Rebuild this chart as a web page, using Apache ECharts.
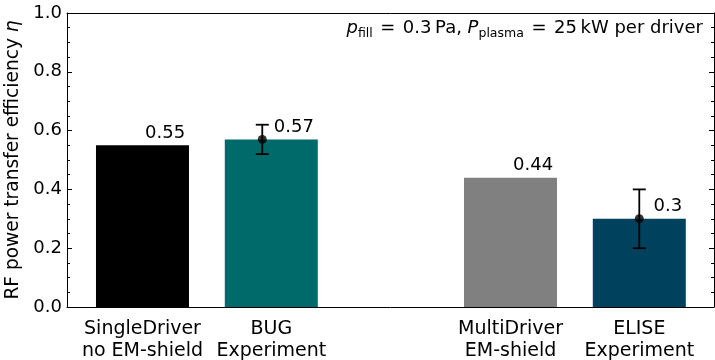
<!DOCTYPE html>
<html>
<head>
<meta charset="utf-8">
<script src="https://cdn.jsdelivr.net/npm/echarts@6/dist/echarts.min.js"></script>
<style>
  html, body { margin: 0; padding: 0; background: #fff; }
  #chart { width: 715px; height: 360px; }
</style>
</head>
<body>
<div id="chart"></div>
<script>
// Bar categories and their positions along the x axis (data units)
const categories = ['SingleDriver\nno EM-shield', 'BUG\nExperiment', 'MultiDriver\nEM-shield', 'ELISE\nExperiment'];
const slots = [0, 1, 2.857, 3.857];
// RF power transfer efficiency per bar
const efficiency = [0.55, 0.57, 0.44, 0.3];
const barColors = ['#000000', '#006a6a', '#808080', '#00425e'];
// Measured points with uncertainty
const errSlots = [0.93, 3.857];
const errValue = [0.57, 0.3];
const errLow = [0.52, 0.2];
const errHigh = [0.62, 0.4];
// y-axis ticks
const yTicks = [0, 0.2, 0.4, 0.6, 0.8, 1.0];

const FONT = 'DejaVu Sans';
const X_MIN = -0.586, X_MAX = 4.437;
const BAR_W = 0.722;
const labelShift = [0.02, 0.02, 0.02, 0.11];

const chart = echarts.init(document.getElementById('chart'), null, { renderer: 'canvas' });

const yAxisBase = {
  type: 'value',
  min: yTicks[0],
  max: yTicks[yTicks.length - 1],
  interval: 0.2,
  z: 5,
  axisLine: { show: true, onZero: false, lineStyle: { color: '#000', width: 1 } },
  axisTick: { show: true, inside: true, length: 5, lineStyle: { color: '#000', width: 1 } },
  minorTick: { show: true, splitNumber: 4, length: 3, lineStyle: { color: '#000', width: 1 } },
  splitLine: { show: false },
  minorSplitLine: { show: false }
};

chart.setOption({
  animation: false,
  backgroundColor: '#fff',
  grid: { left: 67, right: 1, top: 13, bottom: 53, outerBoundsMode: 'none', containLabel: false },
  xAxis: [
    {
      type: 'value',
      min: X_MIN,
      max: X_MAX,
      z: 5,
      axisLine: { show: true, onZero: false, lineStyle: { color: '#000', width: 1 } },
      axisTick: { show: false },
      splitLine: { show: false },
      axisLabel: {
        show: true,
        customValues: slots,
        formatter: (v) => {
          const i = slots.findIndex(s => Math.abs(s - v) < 1e-6);
          return i >= 0 ? categories[i] : '';
        },
        color: '#000',
        fontFamily: FONT,
        fontSize: 19,
        lineHeight: 22,
        margin: 11
      }
    },
    {
      type: 'value',
      position: 'top',
      min: X_MIN,
      max: X_MAX,
      z: 5,
      axisLine: { show: true, onZero: false, lineStyle: { color: '#000', width: 1 } },
      axisTick: { show: false },
      axisLabel: { show: false },
      splitLine: { show: false }
    }
  ],
  yAxis: [
    Object.assign({}, yAxisBase, {
      position: 'left',
      axisLabel: {
        color: '#000',
        fontFamily: FONT,
        fontSize: 18,
        margin: 5,
        formatter: (v) => v.toFixed(1)
      },
      name: 'RF power transfer efficiency {i|η}',
      nameLocation: 'middle',
      nameRotate: 90,
      nameGap: 34,
      nameTextStyle: {
        color: '#000',
        fontFamily: FONT,
        fontSize: 18.6,
        rich: { i: { fontStyle: 'italic', fontFamily: FONT, fontSize: 18.6, color: '#000' } }
      }
    }),
    Object.assign({}, yAxisBase, {
      position: 'right',
      axisLabel: { show: false }
    })
  ],
  series: [
    {
      // bars drawn as rectangles in data space, with value text above
      type: 'custom',
      xAxisIndex: 0,
      yAxisIndex: 0,
      z: 2,
      data: slots.map((s, i) => [s, efficiency[i], i]),
      renderItem: (params, api) => {
        const x = api.value(0), y = api.value(1), i = api.value(2);
        const tl = api.coord([x - BAR_W / 2, y]);
        const br = api.coord([x + BAR_W / 2, 0]);
        const lab = api.coord([x + labelShift[i], y]);
        return {
          type: 'group',
          children: [
            {
              type: 'rect',
              shape: { x: tl[0], y: tl[1], width: br[0] - tl[0], height: br[1] - tl[1] },
              style: { fill: barColors[i] }
            },
            {
              type: 'text',
              x: lab[0],
              y: lab[1] - 12,
              style: {
                text: String(efficiency[i]),
                fill: '#000',
                font: '18px "' + FONT + '"',
                align: 'left',
                verticalAlign: 'middle'
              }
            }
          ]
        };
      }
    },
    {
      type: 'custom',
      xAxisIndex: 0,
      yAxisIndex: 0,
      z: 4,
      data: errSlots.map((s, i) => [s, errLow[i], errHigh[i]]),
      renderItem: (params, api) => {
        const lo = api.coord([api.value(0), api.value(1)]);
        const hi = api.coord([api.value(0), api.value(2)]);
        const cap = 6.5;
        const style = { stroke: '#000', lineWidth: 1.8 };
        return {
          type: 'group',
          children: [
            { type: 'line', shape: { x1: lo[0], y1: lo[1], x2: hi[0], y2: hi[1] }, style },
            { type: 'line', shape: { x1: lo[0] - cap, y1: lo[1], x2: lo[0] + cap, y2: lo[1] }, style },
            { type: 'line', shape: { x1: hi[0] - cap, y1: hi[1], x2: hi[0] + cap, y2: hi[1] }, style }
          ]
        };
      }
    },
    {
      type: 'scatter',
      xAxisIndex: 0,
      yAxisIndex: 0,
      z: 5,
      symbol: 'circle',
      symbolSize: 9,
      itemStyle: { color: '#000' },
      data: errSlots.map((s, i) => [s, errValue[i]])
    }
  ],
  graphic: [
    {
      type: 'text',
      right: 12,
      top: 19,
      z: 10,
      style: {
        text: '{i|p}{sub|fill}{n| \u200a= \u200a0.3\u2009Pa, }{i|P}{sub|plasma}{n| \u200a= \u200a25\u2009kW per driver}',
        fill: '#000',
        rich: {
          n: { fontFamily: FONT, fontSize: 18, lineHeight: 24, verticalAlign: 'middle' },
          i: { fontFamily: FONT, fontSize: 18, fontStyle: 'italic', lineHeight: 24, verticalAlign: 'middle' },
          sub: { fontFamily: FONT, fontSize: 12.5, lineHeight: 24, verticalAlign: 'bottom' }
        }
      }
    }
  ]
});
</script>
</body>
</html>
